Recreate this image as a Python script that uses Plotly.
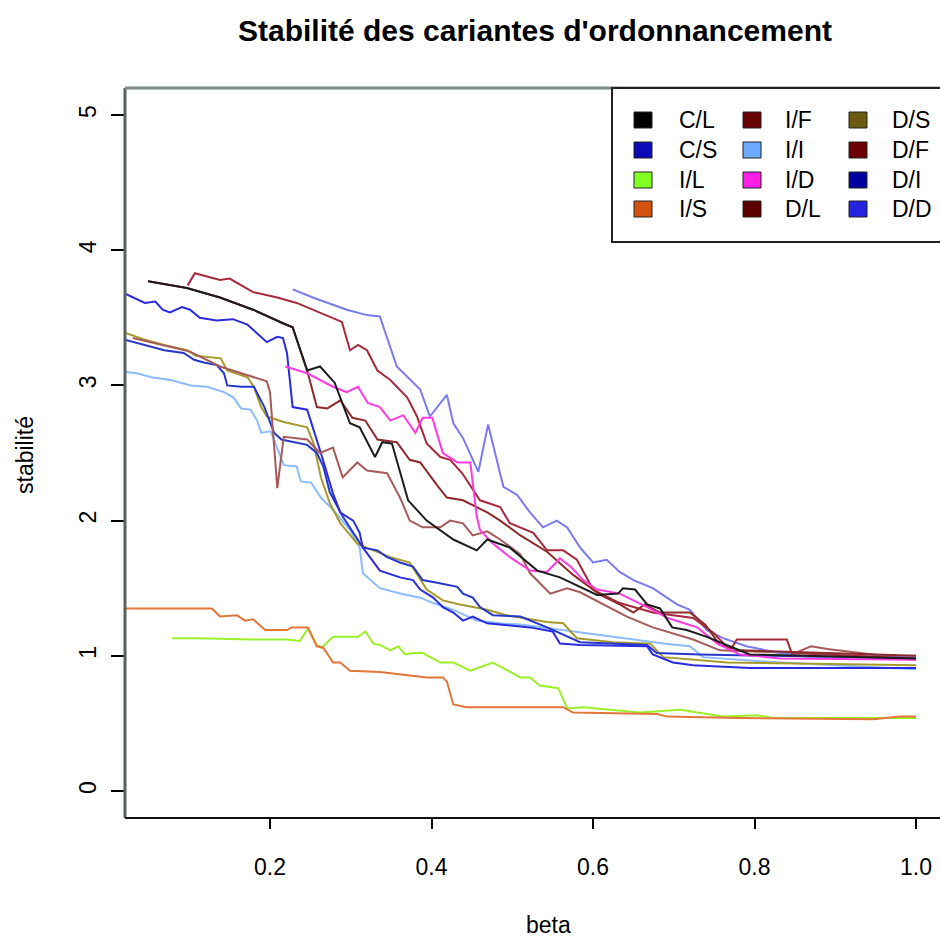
import plotly.graph_objects as go

# ---------------- data (beta, stabilité) ----------------
CL_beta = [0.049, 0.097, 0.138, 0.179, 0.216, 0.228, 0.246, 0.262, 0.280, 0.299, 0.311, 0.330, 0.339, 0.351, 0.371, 0.394, 0.427, 0.456, 0.469, 0.497, 0.531, 0.559, 0.605, 0.631, 0.637, 0.652, 0.667, 0.683, 0.698, 0.716, 0.741, 0.761, 0.794, 1.0]
CL_val = [3.77, 3.72, 3.65, 3.56, 3.46, 3.43, 3.11, 3.14, 3.02, 2.72, 2.69, 2.47, 2.58, 2.57, 2.15, 2.00, 1.86, 1.78, 1.86, 1.80, 1.63, 1.58, 1.45, 1.46, 1.50, 1.49, 1.38, 1.35, 1.21, 1.19, 1.14, 1.09, 1.01, 0.98]

CS_beta = [0.020, 0.030, 0.045, 0.058, 0.067, 0.076, 0.091, 0.101, 0.113, 0.134, 0.154, 0.172, 0.188, 0.196, 0.209, 0.216, 0.221, 0.228, 0.246, 0.254, 0.263, 0.278, 0.287, 0.303, 0.311, 0.315, 0.336, 0.361, 0.377, 0.386, 0.402, 0.414, 0.427, 0.439, 0.451, 0.469, 0.485, 0.522, 0.550, 0.559, 0.584, 0.667, 0.674, 0.699, 0.724, 0.794, 1.0]
CS_val = [3.68, 3.65, 3.61, 3.62, 3.56, 3.54, 3.58, 3.56, 3.50, 3.48, 3.49, 3.45, 3.36, 3.32, 3.36, 3.35, 3.24, 2.84, 2.82, 2.67, 2.50, 2.20, 2.06, 2.00, 1.91, 1.80, 1.63, 1.58, 1.56, 1.49, 1.43, 1.36, 1.32, 1.26, 1.29, 1.24, 1.23, 1.21, 1.18, 1.09, 1.08, 1.07, 1.01, 0.95, 0.93, 0.91, 0.91]

IL_beta = [0.079, 0.110, 0.179, 0.221, 0.237, 0.247, 0.258, 0.264, 0.278, 0.309, 0.318, 0.328, 0.336, 0.349, 0.359, 0.367, 0.377, 0.389, 0.411, 0.427, 0.448, 0.476, 0.510, 0.522, 0.534, 0.557, 0.568, 0.588, 0.658, 0.708, 0.761, 0.803, 0.823, 1.0]
IL_val = [1.13, 1.13, 1.12, 1.12, 1.11, 1.20, 1.08, 1.06, 1.14, 1.14, 1.18, 1.09, 1.08, 1.04, 1.07, 1.01, 1.02, 1.02, 0.95, 0.95, 0.89, 0.95, 0.84, 0.84, 0.78, 0.76, 0.61, 0.62, 0.58, 0.60, 0.55, 0.56, 0.54, 0.54]

IS_beta = [0.020, 0.128, 0.138, 0.159, 0.169, 0.179, 0.194, 0.221, 0.227, 0.247, 0.258, 0.266, 0.278, 0.287, 0.299, 0.336, 0.365, 0.394, 0.414, 0.419, 0.427, 0.444, 0.563, 0.575, 0.679, 0.692, 0.782, 0.947, 0.980, 1.0]
IS_val = [1.35, 1.35, 1.29, 1.30, 1.26, 1.27, 1.19, 1.19, 1.21, 1.21, 1.07, 1.06, 0.95, 0.95, 0.89, 0.88, 0.86, 0.84, 0.84, 0.81, 0.64, 0.62, 0.62, 0.58, 0.57, 0.55, 0.54, 0.53, 0.55, 0.55]

IF_beta = [0.098, 0.107, 0.138, 0.150, 0.179, 0.209, 0.233, 0.262, 0.289, 0.299, 0.309, 0.320, 0.333, 0.349, 0.370, 0.382, 0.394, 0.411, 0.423, 0.438, 0.451, 0.460, 0.485, 0.497, 0.526, 0.543, 0.563, 0.580, 0.600, 0.633, 0.674, 0.724, 0.749, 0.770, 0.778, 0.840, 0.846, 1.0]
IF_val = [3.74, 3.83, 3.78, 3.79, 3.69, 3.65, 3.61, 3.54, 3.47, 3.26, 3.30, 3.26, 3.11, 3.04, 2.91, 2.77, 2.57, 2.47, 2.45, 2.35, 2.23, 2.15, 2.10, 1.98, 1.91, 1.78, 1.78, 1.71, 1.49, 1.39, 1.32, 1.28, 1.17, 1.04, 1.12, 1.12, 1.02, 0.98]

II_beta = [0.019, 0.035, 0.053, 0.077, 0.102, 0.122, 0.143, 0.155, 0.164, 0.176, 0.184, 0.189, 0.201, 0.217, 0.233, 0.238, 0.251, 0.263, 0.278, 0.299, 0.311, 0.315, 0.336, 0.361, 0.386, 0.402, 0.427, 0.456, 0.485, 0.513, 0.625, 0.687, 0.720, 0.736, 0.832, 1.0]
II_val = [3.10, 3.09, 3.06, 3.04, 3.00, 2.99, 2.95, 2.91, 2.83, 2.82, 2.74, 2.65, 2.66, 2.41, 2.40, 2.29, 2.28, 2.17, 2.08, 1.93, 1.80, 1.61, 1.50, 1.46, 1.43, 1.39, 1.34, 1.26, 1.24, 1.23, 1.14, 1.09, 1.07, 0.99, 0.95, 0.90]

ID_beta = [0.219, 0.246, 0.278, 0.295, 0.309, 0.321, 0.336, 0.349, 0.365, 0.380, 0.389, 0.401, 0.414, 0.432, 0.448, 0.456, 0.460, 0.476, 0.497, 0.522, 0.543, 0.559, 0.572, 0.588, 0.605, 0.633, 0.667, 0.692, 0.708, 0.729, 0.754, 0.782, 0.832, 1.0]
ID_val = [3.14, 3.09, 2.99, 2.95, 2.99, 2.87, 2.84, 2.74, 2.78, 2.65, 2.76, 2.76, 2.50, 2.43, 2.43, 2.03, 1.93, 1.83, 1.73, 1.63, 1.62, 1.72, 1.66, 1.56, 1.49, 1.46, 1.36, 1.28, 1.25, 1.21, 1.09, 1.01, 0.98, 0.97]

DL_beta = [0.049, 0.097, 0.138, 0.179, 0.216, 0.228, 0.246, 0.258, 0.271, 0.287, 0.302, 0.318, 0.333, 0.357, 0.373, 0.386, 0.407, 0.419, 0.439, 0.469, 0.485, 0.510, 0.543, 0.575, 0.609, 0.633, 0.650, 0.664, 0.683, 0.720, 0.739, 0.757, 0.782, 1.0]
DL_val = [3.77, 3.72, 3.65, 3.56, 3.46, 3.43, 3.11, 2.84, 2.83, 2.89, 2.76, 2.74, 2.60, 2.58, 2.45, 2.43, 2.26, 2.17, 2.15, 2.06, 2.00, 1.89, 1.77, 1.60, 1.45, 1.38, 1.32, 1.38, 1.32, 1.32, 1.23, 1.08, 1.04, 1.00]

DS_beta = [0.020, 0.044, 0.069, 0.097, 0.108, 0.139, 0.147, 0.172, 0.180, 0.189, 0.196, 0.217, 0.246, 0.254, 0.263, 0.274, 0.287, 0.308, 0.328, 0.349, 0.373, 0.386, 0.394, 0.414, 0.435, 0.469, 0.493, 0.543, 0.563, 0.580, 0.625, 0.671, 0.687, 0.766, 1.0]
DS_val = [3.39, 3.34, 3.30, 3.26, 3.22, 3.20, 3.11, 3.06, 2.99, 2.84, 2.77, 2.73, 2.69, 2.57, 2.32, 2.13, 1.98, 1.83, 1.78, 1.73, 1.69, 1.56, 1.49, 1.41, 1.38, 1.34, 1.30, 1.25, 1.24, 1.13, 1.10, 1.09, 0.99, 0.95, 0.93]

DF_beta = [0.030, 0.101, 0.138, 0.159, 0.196, 0.200, 0.209, 0.217, 0.246, 0.262, 0.278, 0.290, 0.308, 0.320, 0.345, 0.361, 0.373, 0.389, 0.411, 0.423, 0.439, 0.451, 0.469, 0.485, 0.510, 0.522, 0.547, 0.568, 0.584, 0.642, 0.674, 0.724, 0.757, 0.807, 0.850, 0.870, 0.890, 1.0]
DF_val = [3.35, 3.25, 3.14, 3.10, 3.03, 2.95, 2.24, 2.62, 2.60, 2.50, 2.54, 2.32, 2.43, 2.37, 2.35, 2.17, 2.00, 1.95, 1.95, 2.00, 1.98, 1.89, 1.92, 1.86, 1.75, 1.61, 1.46, 1.50, 1.47, 1.29, 1.21, 1.12, 1.04, 1.03, 1.02, 1.07, 1.05, 0.97]

DI_beta = [0.019, 0.044, 0.069, 0.093, 0.106, 0.118, 0.134, 0.143, 0.147, 0.164, 0.180, 0.193, 0.201, 0.205, 0.214, 0.246, 0.258, 0.266, 0.274, 0.290, 0.315, 0.333, 0.345, 0.361, 0.377, 0.389, 0.407, 0.432, 0.439, 0.451, 0.460, 0.476, 0.510, 0.543, 0.584, 0.667, 0.679, 0.732, 1.0]
DI_val = [3.34, 3.30, 3.26, 3.24, 3.19, 3.17, 3.15, 3.09, 3.00, 2.99, 2.99, 2.84, 2.72, 2.65, 2.60, 2.56, 2.50, 2.40, 2.21, 2.03, 1.80, 1.78, 1.73, 1.69, 1.66, 1.56, 1.54, 1.51, 1.46, 1.43, 1.36, 1.30, 1.29, 1.21, 1.10, 1.08, 1.02, 1.01, 0.98]

DD_beta = [0.228, 0.253, 0.295, 0.320, 0.336, 0.357, 0.386, 0.398, 0.419, 0.427, 0.439, 0.458, 0.470, 0.489, 0.506, 0.522, 0.538, 0.555, 0.568, 0.584, 0.600, 0.617, 0.633, 0.650, 0.674, 0.704, 0.720, 0.741, 0.761, 0.790, 0.832, 0.872, 1.0]
DD_val = [3.71, 3.65, 3.56, 3.52, 3.51, 3.14, 2.97, 2.77, 2.93, 2.72, 2.61, 2.36, 2.71, 2.25, 2.19, 2.06, 1.95, 2.00, 1.95, 1.80, 1.69, 1.71, 1.62, 1.56, 1.50, 1.38, 1.34, 1.19, 1.13, 1.07, 1.02, 0.99, 1.00]

series_names = ["C/L", "C/S", "I/L", "I/S", "I/F", "I/I", "I/D", "D/L", "D/S", "D/F", "D/I", "D/D"]
legend_colors = ["#000000", "#0a0ab8", "#80ff20", "#d4520e", "#6b0000", "#6ea8ff", "#ff1ee6",
                 "#5e0000", "#6b5a10", "#6b0000", "#00009c", "#2424e0"]
line_colors = ["#1c1c1c", "#2a2ae0", "#9cf02a", "#e2763a", "#a8283c", "#8cbcff", "#ff3ae0",
               "#8e2a2a", "#a89a2a", "#a65a5a", "#2636c8", "#7a7af0"]
series_beta = [CL_beta, CS_beta, IL_beta, IS_beta, IF_beta, II_beta, ID_beta, DL_beta, DS_beta, DF_beta, DI_beta, DD_beta]
series_val = [CL_val, CS_val, IL_val, IS_val, IF_val, II_val, ID_val, DL_val, DS_val, DF_val, DI_val, DD_val]

x_ticks = [0.2, 0.4, 0.6, 0.8, 1.0]
y_ticks = [0, 1, 2, 3, 4, 5]

# ---------------- layout helpers (pixel -> paper) ----------------
W, H = 940, 939
L, R, T, B = 125, 0, 88, 121
PW, PH = W - L - R, H - T - B


def px(x):
    return (x - L) / PW


def py(y):
    return (H - B - y) / PH


fig = go.Figure()
order = [2, 3, 5, 8, 10, 1, 9, 11, 4, 7, 6, 0]
for i in order:
    fig.add_trace(go.Scatter(x=series_beta[i], y=series_val[i], mode="lines",
                             line=dict(color=line_colors[i], width=2),
                             name=series_names[i], showlegend=False))

FONT = "Liberation Sans"
shapes = []
annotations = []

# plot box (left, top, bottom)
box_col = "#56625f"
shapes.append(dict(type="line", xref="paper", yref="paper", x0=0, x1=0, y0=0, y1=1,
                   line=dict(color=box_col, width=3)))
shapes.append(dict(type="line", xref="paper", yref="paper", x0=0, x1=1.02, y0=1, y1=1,
                   line=dict(color="#7d8c8a", width=3)))
shapes.append(dict(type="line", xref="paper", yref="paper", x0=0, x1=1.02, y0=0, y1=0,
                   line=dict(color="#111111", width=2)))

# legend box
shapes.append(dict(type="rect", xref="paper", yref="paper", x0=px(612), x1=1.05, y0=py(242), y1=1,
                   line=dict(color="#222222", width=2), fillcolor="white", layer="above"))
col_sq = [643, 752, 858]
col_tx = [677, 783, 890]
row_y = [120, 150, 180, 209]
for k, name in enumerate(series_names):
    c, r = k // 4, k % 4
    cx, cy = col_sq[c], row_y[r]
    shapes.append(dict(type="rect", xref="paper", yref="paper",
                       x0=px(cx - 9), x1=px(cx + 9), y0=py(cy + 8), y1=py(cy - 8),
                       line=dict(color="#222222", width=1), fillcolor=legend_colors[k], layer="above"))
    annotations.append(dict(text=name, xref="paper", yref="paper", x=px(col_tx[c]), y=py(cy),
                            xanchor="left", yanchor="middle", showarrow=False,
                            font=dict(family=FONT, size=23, color="black")))

# axis titles
annotations.append(dict(text="beta", xref="paper", yref="paper", x=px(548), y=py(925),
                        xanchor="center", yanchor="middle", showarrow=False,
                        font=dict(family=FONT, size=23, color="black")))
annotations.append(dict(text="stabilité", xref="paper", yref="paper", x=px(25), y=py(455),
                        xanchor="center", yanchor="middle", showarrow=False, textangle=-90,
                        font=dict(family=FONT, size=23, color="black")))

fig.update_layout(
    width=W, height=H,
    margin=dict(l=L, r=R, t=T, b=B, autoexpand=False),
    paper_bgcolor="white", plot_bgcolor="white",
    title=dict(text="<b>Stabilité des cariantes d'ordonnancement</b>",
               x=px(535), xref="paper", xanchor="center",
               y=1 - 30 / H, yref="container", yanchor="middle",
               font=dict(family=FONT, size=30, color="black")),
    shapes=shapes, annotations=annotations,
    showlegend=False,
)
fig.update_xaxes(range=[0.0204, 0.0204 + PW / 807.5], tickvals=x_ticks,
                 ticktext=[f"{v:.1f}" for v in x_ticks],
                 ticks="outside", ticklen=10, tickwidth=1.5, tickcolor="black",
                 ticklabelstandoff=18,
                 showgrid=False, zeroline=False, showline=False,
                 tickfont=dict(family=FONT, size=23, color="black"))
fig.update_yaxes(range=[-0.2, 5.2], tickvals=y_ticks, ticktext=[str(v) for v in y_ticks],
                 ticks="outside", ticklen=13, tickwidth=1.5, tickcolor="black",
                 tickangle=-90, ticklabelstandoff=6,
                 showgrid=False, zeroline=False, showline=False,
                 tickfont=dict(family=FONT, size=23, color="black"))

fig.write_html("out.html")
